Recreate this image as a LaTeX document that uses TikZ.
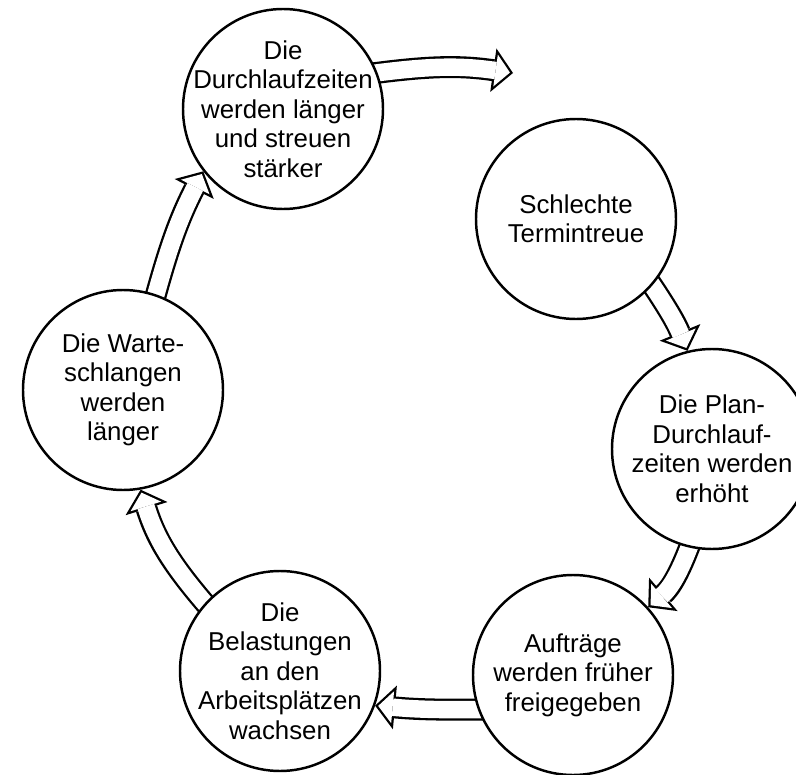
\documentclass[tikz,border=0pt]{standalone}
\usepackage{fontspec}
\setmainfont{Liberation Sans}
\usetikzlibrary{arrows.meta}

\begin{document}
\begin{tikzpicture}
    \tikzstyle{kreis} = [draw,fill=white,shape=circle,line width=1.4pt,minimum size=4cm,inner sep=-1cm,align=center,font=\fontsize{14.7}{16.8}\selectfont]
\tikzstyle{pfeil} = [white,line width=9.9pt,shorten <=-8pt,shorten >=1.75pt,-{Triangle[length=8.25pt,width=18.25pt,line width=0pt]},preaction={draw=black,line width=12.5pt,shorten >=0pt,-{Triangle[length=11.3pt,width=25pt,line width=0pt]}}]

\pgfdeclarelayer{background}
\pgfsetlayers{background,main}

\useasboundingbox (0,0) rectangle (15.92,-15.5);

\node[kreis] (dlz) at (5.66,-2.18) {Die\\Durchlaufzeiten\\werden länger\\und streuen\\stärker};
\node[kreis] (treue) at (11.52,-4.38) {Schlechte\\Termintreue};
\node[kreis] (plan) at (14.24,-8.98) {Die Plan-\\Durchlauf-\\zeiten werden\\erhöht};
\node[kreis] (freigabe) at (11.46,-13.50) {Aufträge\\werden früher\\freigegeben};
\node[kreis] (last) at (5.60,-13.42) {Die\\Belastungen\\an den\\Arbeitsplätzen\\wachsen};
\node[kreis] (warte) at (2.46,-7.80) {Die Warte-\\schlangen\\werden\\länger};
\coordinate (weiter) at (10.26,-1.46);

\begin{pgfonlayer}{background}
\draw[pfeil] (dlz.21) to[bend left=8] (weiter);
\draw[pfeil] (treue.-41) to[bend left=6] (plan.104);
\draw[pfeil] (plan.-103) to[bend left=15] (freigabe.42);
\draw[pfeil] (freigabe.200) to[bend left=3] (last.-20);
\draw[pfeil] (last.138) to[bend left=12] (warte.-80);
\draw[pfeil] (warte.71) to[bend left=6] (dlz.-142);
\end{pgfonlayer}
\end{tikzpicture}
\end{document}
